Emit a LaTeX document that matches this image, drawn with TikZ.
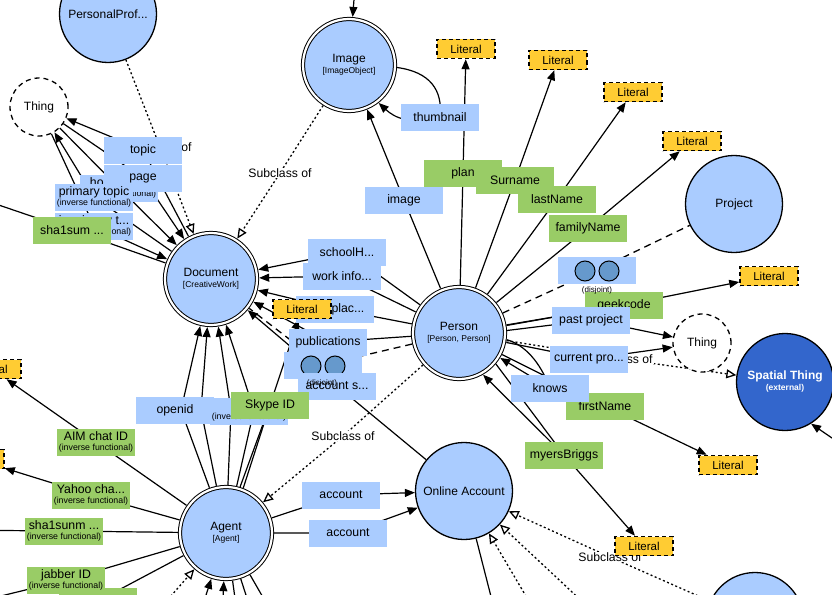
\documentclass[tikz,border=0pt]{standalone}
\usepackage{fontspec}
\setmainfont{Liberation Sans}
\usetikzlibrary{arrows.meta}
\definecolor{clsblue}{HTML}{AACCFF}
\definecolor{propblue}{HTML}{AACCFF}
\definecolor{dpgreen}{HTML}{99CC66}
\definecolor{lityel}{HTML}{FFCC33}
\definecolor{extblue}{HTML}{3366CC}
\definecolor{disjc}{HTML}{6699CC}
\newcommand\myfs[1]{\fontsize{#1}{#1}\selectfont}
\newcommand\invf{\\[-2pt]{\myfs{8.8}(inverse functional)}}
\pgfdeclarelayer{bgfill}
\pgfdeclarelayer{edges}
\pgfsetlayers{bgfill,edges,main}
\tikzset{
  cls/.style={circle, draw, line width=1.3pt, fill=clsblue, minimum size=97pt, inner sep=0pt, align=center, font=\myfs{12}},
  dcls/.style={cls, line width=1pt, double=white, double distance=2.2pt, minimum size=92pt, outer sep=2.2pt},
  thingc/.style={circle, draw, line width=1.3pt, dash pattern=on 5pt off 4pt, fill=white, minimum size=58pt, inner sep=0pt, font=\myfs{12}},
  extc/.style={cls, fill=extblue, text=white, font=\bfseries\myfs{12}},
  lit/.style={rectangle, draw, fill=lityel, line width=1.5pt, dash pattern=on 4pt off 3pt, minimum width=58pt, minimum height=19pt, inner sep=0pt, font=\myfs{11.5}},
  lb/.style={rectangle, fill=propblue, minimum width=78pt, minimum height=27pt, inner sep=0pt, align=center, font=\myfs{12.3}},
  lg/.style={lb, fill=dpgreen},
  sc/.style={fill=white, inner sep=1pt, font=\myfs{12.2}},
  dj/.style={circle, draw, line width=1pt, fill=disjc, minimum size=20pt, inner sep=0pt},
  djt/.style={inner sep=0pt, font=\myfs{8}},
  ln/.style={line width=1.2pt},
  arr/.style={ln, -{Triangle[length=10pt,width=8pt]}},
  subarr/.style={line width=1.3pt, dash pattern=on 2pt off 2.5pt, -{Triangle[open,length=10pt,width=9pt,fill=white]}},
  dsh/.style={line width=1.3pt, dash pattern=on 7pt off 5pt},
}
\begin{document}
\begin{tikzpicture}[x=1pt,y=-1pt]
\useasboundingbox (0,0) rectangle (832,594);
\begin{pgfonlayer}{bgfill}
\fill[white] (0,0) rectangle (832,594);
\end{pgfonlayer}
% classes
\node[cls] (pp) at (108,14) {PersonalProf...};
\node[thingc] (thingL) at (39,107) {Thing};
\node[dcls] (image) at (349,65) {Image\\[-1pt]{\myfs{8.5}[ImageObject]}};
\node[dcls] (doc) at (211,279) {Document\\[-1pt]{\myfs{8.5}[CreativeWork]}};
\node[dcls] (person) at (459,333) {Person\\[-1pt]{\myfs{8.5}[Person, Person]}};
\node[cls] (project) at (734,204) {Project};
\node[thingc] (thingR) at (702,343) {Thing};
\node[extc] (spatial) at (785,382) {Spatial Thing\\[-1pt]{\myfs{8.5}(external)}};
\node[cls] (online) at (464,491) {Online Account};
\node[dcls] (agent) at (226,533) {Agent\\[-1pt]{\myfs{8.5}[Agent]}};
\node[cls] (brc) at (755,621) {};
% literals
\node[lit] (lit1) at (466,49) {Literal};
\node[lit] (lit2) at (558,60) {Literal};
\node[lit] (lit3) at (633,92) {Literal};
\node[lit] (lit4) at (692,141) {Literal};
\node[lit] (lit5) at (769,276) {Literal};
\node[lit] (lit6) at (728,465) {Literal};
\node[lit] (litL) at (-8,369) {Literal};
\node[lit] (litL2) at (-25,459) {Literal};
% subclass labels
\node[sc] (sc1) at (160,147) {Subclass of};
\node[sc] (sc2) at (280,173) {Subclass of};
\node[sc] (sc3) at (621,359) {Subclass of};
\node[sc] (sc4) at (343,436) {Subclass of};
\node[sc] (sc5) at (610,557) {Subclass of};
% property labels
\node[lb] (homepage) at (119,188) {homepage\invf};
\node[lb] (topic) at (143,150) {topic};
\node[lb] (page) at (143,178) {page};
\node[lb] (primtopic) at (94,197) {primary topic\invf};
\node[lb] (isprim) at (94,226) {is primary t...\invf};
\node[lg] (sha1) at (72,230) {sha1sum ...};
\node[lb] (imagelbl) at (404,200) {image};
\node[lb] (thumb) at (440,117) {thumbnail};
\node[lg] (plan) at (463,173) {plan};
\node[lg] (surname) at (515,180) {Surname};
\node[lg] (lastname) at (557,199) {lastName};
\node[lg] (familyname) at (588,228) {familyName};
\node[lb] (disj1) at (597,270) {};
\node[dj] (d1a) at (585,271) {};
\node[dj] (d1b) at (609,271) {};
\node[lg] (geek) at (624,305) {geekcode};
\node[djt] (dt1) at (597,290) {(disjoint)};
\node[lb] (pastproj) at (591,320) {past project};
\node[lb] (curproj) at (589,359) {current pro...};
\node[lg] (firstname) at (605,406) {firstName};
\node[lb] (knows) at (550,388) {knows};
\node[lg] (myers) at (564,455) {myersBriggs};
\node[lb] (schoolH) at (347,252) {schoolH...};
\node[lb] (workinfo) at (342,276) {work info...};
\node[lb] (workplace) at (335,309) {workplac...};
\node[lit] (litD) at (302,309) {Literal};
\node[lb] (publications) at (328,342) {publications};
\node[lb] (disj2) at (323,365) {};
\node[dj] (d2a) at (311,366) {};
\node[dj] (d2b) at (335,366) {};
\node[lb] (accserv) at (337,386) {account s...};
\node[djt] (dt2) at (322,383) {(disjoint)};
\node[lb] (openid) at (175,410) {openid};
\node[lb] (hidden) at (249,411) {\phantom{h}\invf};
\node[lg] (skype) at (270,405) {Skype ID};
\node[lg] (aim) at (96,442) {AIM chat ID\invf};
\node[lg] (yahoo) at (91,495) {Yahoo cha...\invf};
\node[lg] (sha1sunm) at (64,531) {sha1sunm ...\invf};
\node[lg] (bgreen) at (98,601) {};
\node[lg] (jabber) at (66,580) {jabber ID\invf};
\node[lb] (account1) at (341,495) {account};
\node[lb] (account2) at (348,533) {account};
\node[lit] (lit7) at (644,546) {Literal};
% free ends
\coordinate (offsha) at (-60,185);
\coordinate (topin) at (357,-40);
\coordinate (offL1) at (-60,530);
\coordinate (offL2) at (-60,611);
\coordinate (b1) at (150,620);
\coordinate (b2) at (198,620);
\coordinate (b3) at (222,620);
\coordinate (b4) at (238,620);
\coordinate (b5) at (254,620);
\coordinate (b6) at (276,620);
\coordinate (ob) at (497,620);
\coordinate (os2) at (602,620);
\coordinate (os3) at (540,620);
\coordinate (spin) at (870,464);
\coordinate (ppa) at (560,316);
\coordinate (ppb) at (560,324);
\coordinate (o1) at (181,410);
\coordinate (o2) at (201,410);
\coordinate (h1) at (231,410);
\coordinate (h2) at (254,410);
\begin{pgfonlayer}{edges}
% Document / Thing group
\draw[arr] (doc) -- (topic.center) -- (thingL);
\draw[arr] (thingL) -- (page.center) -- (doc);
\draw[arr] (thingL) -- (homepage.center) -- (doc);
\draw[arr] (doc) -- (primtopic.center) -- (thingL);
\draw[arr] (thingL) -- (isprim.center) -- (doc);
\draw[arr] (doc) -- (sha1.center) -- (offsha);
\draw[subarr] (pp) -- (sc1.center) -- (doc);
\draw[subarr] (image) -- (sc2.center) -- (doc);
% Image
\draw[arr] (person) -- (imagelbl.center) -- (image);
\draw[ln] (image.-3) .. controls (430,72) and (443,90) .. (thumb.center);
\draw[arr] (thumb.center) .. controls (410,125) and (395,118) .. (image.-52);
\draw[arr] (topin) -- (image);
% Person outgoing
\draw[arr] (person) -- (plan.center) -- (lit1);
\draw[arr] (person) -- (surname.center) -- (lit2);
\draw[arr] (person) -- (lastname.center) -- (lit3);
\draw[arr] (person) -- (familyname.center) -- (lit4);
\draw[dsh] (person) -- (disj1.center) -- (project);
\draw[arr] (person) -- (geek.center) -- (lit5);
\draw[ln] (person.9) -- (ppa);
\draw[ln] (person.3) -- (ppb);
\draw[arr] (pastproj.center) -- (thingR);
\draw[arr] (person) -- (curproj.center) -- (thingR);
\draw[subarr] (person) -- (sc3.center) -- (spatial);
\draw[ln] (person.-8) .. controls (525,345) and (540,362) .. (knows.center);
\draw[arr] (knows.center) -- (person);
\draw[arr] (person) -- (firstname.center) -- (lit6);
\draw[ln] (person.-40) -- (myers.center);
\draw[arr] (myers.center) -- (lit7);
\draw[arr] (myers.center) -- (person.-60);
\draw[arr] (person) -- (schoolH.center) -- (doc);
\draw[arr] (person) -- (workinfo.center) -- (doc);
\draw[arr] (person) -- (workplace.center) -- (doc);
\draw[arr] (person) -- (publications.center) -- (doc);
\draw[dsh] (person) -- (disj2.center) -- (doc);
\draw[arr] (online) -- (accserv.center) -- (doc);
\draw[subarr] (person) -- (sc4.center) -- (agent);
% Agent
\draw[arr] (agent) -- (o1) -- (doc);
\draw[arr] (agent) -- (o2) -- (doc);
\draw[arr] (agent) -- (h1) -- (doc);
\draw[arr] (agent) -- (h2) -- (doc);
\draw[ln] (agent.69) -- (skype.center);
\draw[arr] (agent.73) -- (skype.center) -- (litD);
\draw[arr] (agent) -- (account1.center) -- (online);
\draw[arr] (agent) -- (account2.center) -- (online);
\draw[arr] (agent) -- (aim.center) -- (litL);
\draw[arr] (agent) -- (yahoo.center) -- (litL2);
\draw[arr] (agent) -- (sha1sunm.center) -- (offL1);
\draw[arr] (agent) -- (jabber.center) -- (offL2);
\draw[ln] (agent) -- (bgreen.center);
\draw[subarr] (b1) -- (agent);
\draw[arr] (b2) -- (agent);
\draw[arr] (b3) -- (agent);
\draw[ln] (agent) -- (b4);
\draw[ln] (agent) -- (b5);
\draw[ln] (agent) -- (b6);
% Online account
\draw[ln] (online) -- (ob);
\draw[subarr] (brc) -- (sc5.center) -- (online);
\draw[subarr] (os2) -- (online);
\draw[subarr] (os3) -- (online);
\draw[arr] (spin) -- (spatial.-58);
\end{pgfonlayer}
\end{tikzpicture}
\end{document}
